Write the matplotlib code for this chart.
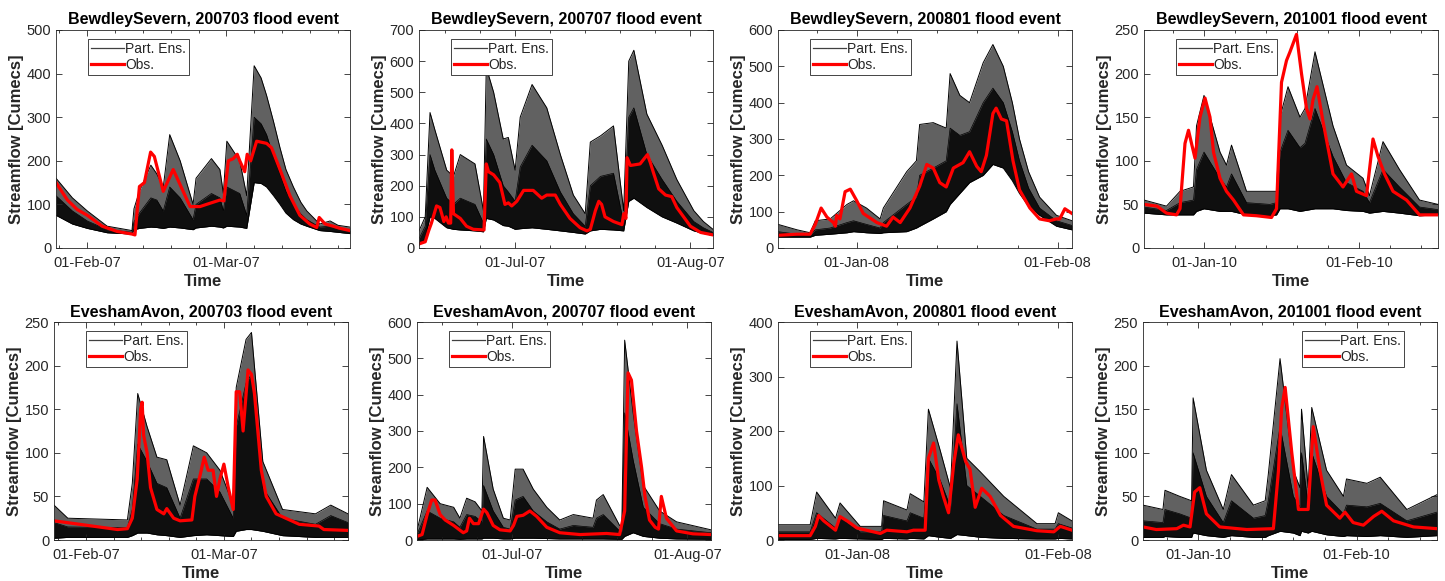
import numpy as np
import matplotlib
matplotlib.use("Agg")
import matplotlib.pyplot as plt
import matplotlib.dates as mdates
from matplotlib.lines import Line2D
from matplotlib.ticker import AutoMinorLocator, MultipleLocator
import datetime as dt

plt.rcParams['font.family'] = ['Liberation Sans', 'DejaVu Sans']

# time in days relative to the first labelled month start of each panel

# ---- BewdleySevern 200703
p1_t_obs = [-6.3, -4, -2, 0, 3, 6, 9.0, 9.6, 10.5, 11.5, 12.75, 13.5, 15.3, 16.5, 17.3, 18.5, 20.7, 22.7, 24.0,
            26.7, 27.5, 28.4, 29.4, 30.2, 30.7, 31.7, 32.2, 32.9, 34.1, 36.1, 37.1, 38.8, 40.8, 42.8, 44.8, 46.2,
            46.7, 47.9, 49.5, 50.9, 52.9]
p1_obs = [150, 110, 88, 75, 50, 38, 32, 30, 141, 150, 220, 210, 130, 160, 180, 150, 95, 95, 100, 110, 108, 200,
          205, 215, 200, 175, 215, 200, 245, 240, 230, 180, 120, 75, 55, 47, 70, 55, 50, 45, 40]
p1_t_ens = [-6.3, -3, 0, 4, 9.0, 9.4, 10.5, 12.8, 14.0, 15.3, 16.6, 18.7, 21.3, 21.9, 25.0, 26.7, 27.4, 28.1,
            30.7, 32.1, 33.6, 35.0, 36.1, 37.5, 38.8, 40.0, 41.5, 43.0, 44.2, 46.8, 48.9, 50.5, 52.9]
p1_lo = [75, 55, 45, 35, 32, 42, 45, 48, 47, 45, 48, 46, 42, 46, 50, 48, 46, 50, 48, 45, 150, 148, 140, 120, 100,
         80, 65, 55, 50, 40, 38, 36, 33]
p1_mid = [120, 85, 62, 42, 36, 60, 80, 115, 110, 85, 140, 115, 65, 100, 125, 115, 85, 140, 125, 75, 300, 285,
          260, 210, 170, 130, 100, 78, 65, 48, 50, 44, 40]
p1_hi = [160, 115, 85, 50, 40, 90, 130, 190, 170, 140, 260, 200, 100, 160, 205, 180, 125, 245, 200, 120, 418,
         390, 350, 290, 230, 180, 140, 105, 85, 55, 62, 52, 48]

# ---- BewdleySevern 200707
p2_t_obs = [-17.0, -15.9, -15.3, -14.8, -13.9, -13.3, -12.6, -12.2, -11.8, -11.4, -11.2, -10.9, -9.7, -8.6, -7.4,
            -5.5, -5.1, -4.7, -3.8, -2.7, -1.8, -1.2, -0.6, 0.3, 1.5, 3.2, 4.7, 5.6, 7.1, 8.0, 9.7, 11.5, 12.7,
            13.3, 14.2, 14.8, 15.3, 15.9, 17.4, 18.9, 19.2, 19.6, 19.8, 20.4, 22.1, 23.4, 23.9, 24.5, 25.4,
            26.6, 27.7, 28.6, 31.0, 32.8, 35.0]
p2_obs = [13, 20, 55, 80, 135, 130, 85, 100, 80, 80, 315, 110, 95, 70, 60, 58, 270, 245, 235, 210, 140, 145,
          135, 150, 185, 185, 160, 170, 170, 140, 95, 65, 55, 60, 120, 150, 140, 100, 85, 75, 110, 95, 290,
          265, 270, 300, 275, 240, 190, 170, 165, 130, 70, 50, 42]
p2_t_ens = [-17.0, -15.9, -15.05, -14.2, -12.1, -10.9, -9.7, -7.1, -5.6, -5.1, -3.8, -2.1, -1.2, 0, 0.9, 3.0,
            5.6, 8.0, 10.3, 12.4, 13.3, 15.1, 17.4, 19.2, 20.1, 21.0, 23.3, 26.0, 28.6, 31.6, 33.3, 35.0]
p2_lo = [10, 30, 100, 95, 65, 60, 58, 55, 52, 95, 90, 72, 70, 60, 62, 65, 60, 55, 50, 45, 55, 60, 58, 55, 150,
         160, 130, 100, 80, 55, 47, 40]
p2_mid = [30, 70, 300, 250, 160, 140, 160, 140, 80, 350, 300, 200, 180, 150, 260, 330, 280, 180, 110, 70, 200,
          230, 240, 80, 420, 450, 300, 220, 150, 85, 65, 50]
p2_hi = [55, 100, 435, 380, 250, 230, 300, 270, 120, 580, 500, 350, 355, 250, 420, 525, 450, 300, 170, 110, 340,
         360, 392, 120, 600, 635, 430, 330, 220, 120, 85, 60]

# ---- BewdleySevern 200801
p3_t_obs = [-12.15, -9.2, -7.2, -6.4, -5.5, -4.6, -3.6, -3.3, -3.1, -2.6, -1.8, -1.0, 0, 1.0, 3.1, 4.6, 5.6,
            6.7, 8.2, 9.7, 10.8, 11.8, 12.8, 13.8, 14.9, 16.4, 17.4, 18.5, 19.2, 20.0, 21.0, 21.5, 22.3, 23.1,
            24.1, 25.1, 26.7, 28.2, 29.7, 30.8, 31.3, 32.1, 33.2]
p3_obs = [35, 38, 38, 65, 110, 85, 70, 60, 90, 80, 155, 162, 130, 95, 70, 60, 85, 70, 110, 170, 230, 220, 180,
          168, 220, 235, 265, 225, 210, 255, 370, 385, 355, 350, 240, 160, 110, 80, 75, 80, 80, 108, 95]
p3_t_ens = [-12.15, -9.2, -7.2, -6.4, -4.1, -1.5, -0.5, 1.5, 3.6, 4.1, 7.7, 9.2, 9.7, 11.8, 13.8, 14.4, 15.9,
            17.4, 19.5, 21.0, 22.6, 24.0, 25.1, 26.5, 28.2, 30.8, 33.2]
p3_lo = [30, 30, 30, 35, 38, 42, 45, 42, 40, 42, 45, 55, 60, 80, 100, 120, 150, 180, 200, 230, 220, 185, 150,
         115, 90, 60, 50]
p3_mid = [45, 38, 36, 50, 55, 70, 75, 65, 55, 70, 120, 140, 200, 220, 240, 330, 310, 320, 400, 440, 400, 320,
          240, 165, 110, 75, 62]
p3_hi = [65, 50, 42, 75, 80, 120, 130, 110, 80, 110, 210, 240, 340, 345, 330, 480, 420, 400, 510, 560, 500, 400,
         300, 210, 140, 90, 75]

# ---- BewdleySevern 201001
p4_t_obs = [-12.0, -9.4, -7.5, -5.5, -4.8, -3.8, -3.1, -2.5, -1.8, -0.8, 0.2, 1.2, 1.9, 3.2, 4.5, 5.9, 7.9, 10.5,
            13.5, 14.5, 15.5, 16.5, 17.2, 18.5, 19.5, 20.5, 21.2, 21.8, 22.6, 23.8, 25.8, 27.8, 29.5, 30.5,
            32.5, 33.8, 34.8, 36.1, 37.8, 40.5, 43.1, 46.8]
p4_obs = [50, 48, 40, 38, 45, 120, 135, 120, 103, 150, 172, 150, 110, 80, 65, 55, 38, 37, 35, 45, 190, 215, 225,
          245, 200, 160, 148, 170, 185, 145, 85, 70, 85, 65, 60, 125, 105, 85, 65, 55, 38, 38]
p4_t_ens = [-12.0, -7.5, -4.8, -2.1, -1.5, 0, 3.2, 4.5, 5.5, 8.5, 13.2, 14.5, 15.2, 16.8, 19.2, 20.2, 22.2, 25.8,
            28.5, 31.8, 33.1, 35.8, 39.1, 43.1, 46.8]
p4_lo = [40, 38, 38, 38, 42, 45, 42, 42, 42, 38, 37, 38, 45, 45, 42, 43, 45, 45, 43, 42, 40, 42, 40, 37, 38]
p4_mid = [47, 43, 52, 55, 90, 110, 80, 70, 85, 52, 50, 52, 110, 135, 115, 120, 160, 105, 75, 65, 52, 90, 70, 47, 44]
p4_hi = [55, 48, 65, 70, 140, 175, 110, 95, 118, 65, 65, 65, 150, 185, 150, 160, 225, 140, 95, 80, 60, 122, 90,
         55, 50]

# ---- EveshamAvon 200703
p5_t_obs = [-6.5, 0, 6.4, 8.4, 9.4, 10.4, 11.1, 11.4, 11.7, 12.4, 13.1, 14.4, 15.8, 16.4, 17.8, 19.1, 21.5, 22.1,
            23.2, 24.0, 24.8, 25.8, 26.5, 27.2, 28.0, 28.9, 29.9, 30.5, 31.2, 31.9, 32.9, 33.6, 34.2, 35.6, 36.6,
            38.6, 43.3, 47.3, 48.3, 53.2]
p5_obs = [22, 17, 12, 13, 25, 70, 150, 158, 120, 100, 60, 35, 30, 36, 25, 22, 23, 50, 75, 95, 80, 80, 50, 70, 87,
          60, 35, 170, 170, 125, 195, 190, 168, 80, 50, 30, 18, 16, 12, 11]
p5_t_ens = [-6.5, -3.7, 8.4, 9.4, 10.5, 12.4, 14.4, 16.4, 19.1, 21.8, 24.5, 27.2, 29.9, 30.5, 32.5, 33.6, 35.9,
            39.9, 46.6, 49.7, 53.2]
p5_lo = [2, 3, 3, 5, 8, 8, 6, 5, 3, 5, 6, 5, 4, 10, 12, 12, 10, 5, 3, 3, 3]
p5_mid = [20, 15, 14, 35, 110, 90, 65, 60, 25, 70, 70, 55, 25, 130, 180, 190, 60, 25, 18, 28, 20]
p5_hi = [40, 25, 23, 65, 168, 130, 95, 92, 40, 108, 100, 80, 40, 175, 230, 238, 90, 35, 30, 40, 30]

# ---- EveshamAvon 200707
p6_t_obs = [-16.9, -16.0, -15.1, -14.3, -13.7, -12.8, -11.9, -10.4, -8.7, -8.1, -7.6, -6.9, -6.0, -5.1, -4.5,
            -3.4, -2.2, -0.4, 0.2, 0.8, 1.9, 3.1, 4.3, 6.1, 8.4, 12.0, 16.7, 19.0, 19.9, 20.5, 21.1, 22.0, 22.9,
            23.5, 24.3, 25.3, 25.9, 26.4, 27.3, 29.1, 32.0, 35.2]
p6_obs = [10, 15, 70, 110, 110, 70, 55, 40, 20, 25, 60, 45, 45, 85, 75, 40, 28, 25, 40, 65, 68, 80, 65, 35, 20,
          15, 18, 15, 80, 460, 440, 300, 200, 120, 55, 35, 30, 120, 60, 25, 17, 15]
p6_t_ens = [-16.9, -15.1, -12.8, -10.4, -9.3, -8.1, -6.6, -5.4, -5.1, -3.4, -1.6, -0.4, 0.5, 1.9, 3.7, 6.1, 8.4,
            10.8, 14.3, 14.9, 16.1, 19.0, 19.4, 19.9, 21.4, 23.2, 26.1, 29.1, 35.2]
p6_lo = [0, 3, 3, 3, 2, 3, 3, 3, 5, 5, 3, 3, 5, 5, 5, 4, 3, 3, 3, 3, 3, 2, 2, 10, 20, 10, 5, 3, 2]
p6_mid = [15, 80, 60, 50, 35, 70, 65, 50, 150, 80, 35, 30, 110, 120, 80, 50, 30, 40, 35, 60, 70, 25, 25, 350,
          220, 90, 45, 30, 20]
p6_hi = [25, 145, 100, 90, 60, 115, 105, 80, 285, 140, 60, 55, 195, 195, 140, 90, 55, 70, 60, 110, 125, 40, 40,
         550, 350, 150, 80, 50, 28]

# ---- EveshamAvon 200801
p7_t_obs = [-12.15, -7.2, -6.4, -5.9, -5.1, -3.3, -2.6, -1.5, 0, 3.6, 4.6, 7.7, 8.7, 10.5, 11.0, 11.8, 12.6,
            13.3, 14.1, 14.9, 15.6, 16.7, 17.4, 18.2, 19.2, 20.5, 22.1, 24.1, 27.7, 30.3, 31.3, 33.1]
p7_obs = [8, 8, 25, 45, 35, 18, 43, 35, 22, 12, 18, 15, 18, 18, 150, 178, 110, 80, 50, 140, 193, 145, 130, 60,
          95, 80, 45, 25, 17, 15, 25, 18]
p7_t_ens = [-12.15, -7.2, -6.2, -3.6, -3.3, -2.6, 0.5, 3.8, 4.1, 7.7, 8.2, 10.3, 11.0, 12.8, 14.4, 15.4, 16.9,
            19.0, 22.6, 27.7, 30.5, 31.0, 33.1]
p7_lo = [1, 1, 3, 2, 2, 3, 2, 1, 3, 2, 3, 2, 8, 5, 3, 10, 8, 5, 3, 2, 2, 3, 2]
p7_mid = [15, 15, 50, 25, 22, 40, 15, 15, 45, 35, 50, 40, 150, 110, 60, 250, 100, 80, 45, 20, 20, 30, 22]
p7_hi = [28, 28, 88, 45, 40, 68, 25, 25, 72, 55, 85, 70, 240, 165, 95, 365, 150, 125, 80, 30, 30, 50, 35]

# ---- EveshamAvon 201001
p8_t_obs = [-10.8, -8.2, -4.2, -2.9, -1.6, -0.7, 0.3, 1.6, 4.2, 9.5, 14.7, 15.7, 16.3, 17.0, 18.3, 19.6, 20.9,
            21.5, 22.5, 23.8, 25.1, 27.7, 28.7, 30.3, 32.3, 34.3, 35.9, 38.2, 42.1, 46.7]
p8_obs = [15, 12, 13, 17, 15, 55, 60, 30, 15, 12, 13, 80, 150, 175, 100, 35, 35, 35, 130, 80, 40, 25, 32, 20,
          17, 27, 33, 22, 15, 13]
p8_t_ens = [-10.8, -6.9, -6.5, -3.6, -1.3, -1.0, 1.6, 4.9, 6.5, 10.8, 13.1, 13.7, 16.0, 18.6, 19.9, 20.2, 21.5,
            22.2, 25.1, 28.4, 29.0, 33.0, 35.6, 40.8, 46.7]
p8_lo = [3, 3, 4, 3, 3, 8, 5, 3, 5, 3, 3, 5, 10, 8, 5, 10, 8, 10, 6, 4, 5, 4, 5, 3, 5]
p8_mid = [22, 20, 35, 30, 25, 100, 50, 20, 45, 25, 28, 45, 130, 50, 38, 100, 40, 100, 50, 30, 40, 38, 42, 22, 32]
p8_hi = [40, 35, 57, 50, 45, 163, 80, 35, 75, 40, 45, 75, 208, 80, 60, 150, 60, 152, 80, 50, 70, 65, 72, 35, 52]

titles = ["BewdleySevern, 200703 flood event", "BewdleySevern, 200707 flood event",
          "BewdleySevern, 200801 flood event", "BewdleySevern, 201001 flood event",
          "EveshamAvon, 200703 flood event", "EveshamAvon, 200707 flood event",
          "EveshamAvon, 200801 flood event", "EveshamAvon, 201001 flood event"]
anchors = [dt.datetime(2007, 2, 1), dt.datetime(2007, 7, 1), dt.datetime(2008, 1, 1), dt.datetime(2010, 1, 1),
           dt.datetime(2007, 2, 1), dt.datetime(2007, 7, 1), dt.datetime(2008, 1, 1), dt.datetime(2010, 1, 1)]
xlims = [(-6.3, 52.9), (-17.0, 35.0), (-12.15, 33.2), (-12.0, 46.8),
         (-6.5, 53.2), (-16.9, 35.2), (-12.15, 33.1), (-10.8, 46.7)]
ymax = [500, 700, 600, 250, 250, 600, 400, 250]
ystep = [100, 100, 100, 50, 50, 100, 100, 50]

panels = [
    (p1_t_obs, p1_obs, p1_t_ens, p1_lo, p1_mid, p1_hi),
    (p2_t_obs, p2_obs, p2_t_ens, p2_lo, p2_mid, p2_hi),
    (p3_t_obs, p3_obs, p3_t_ens, p3_lo, p3_mid, p3_hi),
    (p4_t_obs, p4_obs, p4_t_ens, p4_lo, p4_mid, p4_hi),
    (p5_t_obs, p5_obs, p5_t_ens, p5_lo, p5_mid, p5_hi),
    (p6_t_obs, p6_obs, p6_t_ens, p6_lo, p6_mid, p6_hi),
    (p7_t_obs, p7_obs, p7_t_ens, p7_lo, p7_mid, p7_hi),
    (p8_t_obs, p8_obs, p8_t_ens, p8_lo, p8_mid, p8_hi),
]

# axes placement in pixels (left, top) of the 1445x581 canvas
W, H = 1445, 581
lefts = [56, 419, 778, 1144, 54, 417, 778, 1143]
tops = [30, 30, 30, 30, 322, 322, 322, 322]
aw, ah = 294, 218

fig = plt.figure(figsize=(14.45, 5.81), dpi=100)
gray = '0.15'

for i in range(8):
    t_obs, obs, t_ens, lo, mid, hi = panels[i]
    base = mdates.date2num(anchors[i])
    ax = fig.add_axes([lefts[i] / W, 1 - (tops[i] + ah) / H, aw / W, ah / H])

    xe = base + np.array(t_ens)
    ax.fill_between(xe, lo, hi, color='0.38', lw=0)
    ax.fill_between(xe, lo, mid, color='0.06', lw=0)
    ax.plot(xe, hi, color='k', lw=0.7)
    ax.plot(xe, mid, color='k', lw=0.5)
    ax.plot(xe, lo, color='k', lw=0.7)
    ax.plot(base + np.array(t_obs), obs, color='red', lw=2.3)

    ax.set_xlim(base + xlims[i][0], base + xlims[i][1])
    ax.set_ylim(0, ymax[i])
    ax.yaxis.set_major_locator(MultipleLocator(ystep[i]))
    ax.xaxis.set_major_locator(mdates.MonthLocator(bymonthday=1))
    ax.xaxis.set_major_formatter(mdates.DateFormatter('%d-%b-%y'))
    ax.xaxis.set_minor_locator(AutoMinorLocator(5))

    ax.tick_params(which='both', direction='in', top=True, right=True, colors=gray,
                   labelsize=10.5, width=0.6)
    ax.tick_params(which='major', length=4)
    ax.tick_params(which='minor', length=2)
    ax.tick_params(axis='x', pad=6)
    for s in ax.spines.values():
        s.set_color(gray)
        s.set_linewidth(0.6)

    ax.set_title(titles[i], fontsize=11.5, fontweight='bold', pad=4)
    ax.set_xlabel('Time', fontsize=12, fontweight='bold', color=gray, labelpad=3)
    ax.set_ylabel('Streamflow [Cumecs]', fontsize=12, fontweight='bold', color=gray, labelpad=2)

    handles = [Line2D([], [], color='0.25', lw=0.9), Line2D([], [], color='red', lw=2.3)]
    if i == 7:
        leg = ax.legend(handles, ['Part. Ens.', 'Obs.'], loc='upper right', bbox_to_anchor=(0.91, 0.99),
                        fontsize=10, handlelength=2.4, handletextpad=0.1, borderpad=0.2,
                        labelspacing=0.15, fancybox=False, framealpha=1)
    else:
        leg = ax.legend(handles, ['Part. Ens.', 'Obs.'], loc='upper left', bbox_to_anchor=(0.085, 0.99),
                        fontsize=10, handlelength=2.4, handletextpad=0.1, borderpad=0.2,
                        labelspacing=0.15, fancybox=False, framealpha=1)
    leg.get_frame().set_edgecolor(gray)
    leg.get_frame().set_linewidth(0.6)
    for txt in leg.get_texts():
        txt.set_color(gray)

fig.savefig('out.png', dpi=100)
